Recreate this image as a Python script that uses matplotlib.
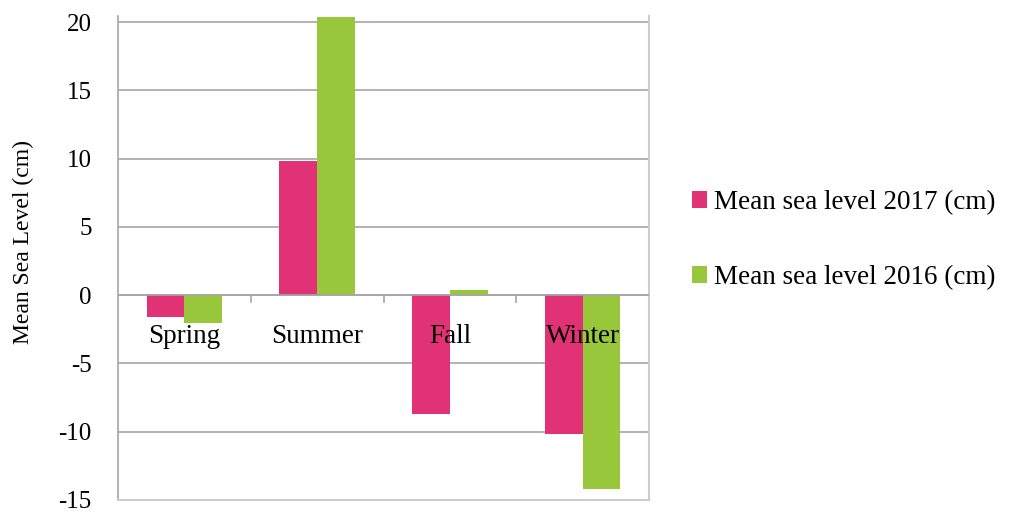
import numpy as np
from matplotlib import pyplot as plt

seasons = ['Spring', 'Summer', 'Fall', 'Winter']
level_2017 = [-1.6, 9.8, -8.7, -10.2]
level_2016 = [-2.0, 20.4, 0.4, -14.2]
series_names = ['Mean sea level 2017 (cm)', 'Mean sea level 2016 (cm)']
y_ticks = [-15, -10, -5, 0, 5, 10, 15, 20]

plt.rcParams['font.family'] = ['Liberation Serif', 'DejaVu Serif']

fig = plt.figure(figsize=(10.14, 5.13), dpi=100)
ax = fig.add_axes([118/1014, 13/513, (649-118)/1014, (500-16)/513])

x = np.arange(len(seasons))
wid = 0.285
ax.bar(x - wid/2, level_2017, width=wid, color='#e03275', label=series_names[0], zorder=3)
ax.bar(x + wid/2, level_2016, width=wid, color='#99c73c', label=series_names[1], zorder=3)

ax.set_xlim(-0.5, len(seasons) - 0.5)
ax.set_ylim(-15, 20.45)
ax.set_yticks(y_ticks)
ax.set_yticklabels([str(t) for t in y_ticks], fontsize=18)
ax.yaxis.grid(True, color='#a6a6a6', linewidth=1.2, zorder=0)
ax.tick_params(axis='y', length=0, pad=19)

# x axis sits at zero, labels drawn below it inside the plot
ax.axhline(0, color='#a6a6a6', linewidth=1.2, zorder=4)
ax.set_xticks([])
for i in range(1, len(seasons)):
    ax.plot([i - 0.5, i - 0.5], [0, -0.5], color='#a6a6a6', linewidth=1.2, zorder=4)
for i, s in enumerate(seasons):
    ax.text(i, -3.0, s, ha='center', va='center', fontsize=19.5, zorder=5)

ax.spines['top'].set_visible(False)
ax.spines['left'].set_color('#a6a6a6')
ax.spines['left'].set_linewidth(1.2)
ax.spines['right'].set_color('#cccccc')
ax.spines['bottom'].set_color('#cccccc')
ax.spines['right'].set_linewidth(1.5)
ax.spines['bottom'].set_linewidth(1.5)

fig.text(23/1014, 1 - 242/513, 'Mean Sea Level (cm)', rotation=90,
         ha='center', va='center', fontsize=17)

ax.legend(loc='center left', bbox_to_anchor=(1.036, 0.537), frameon=False,
          fontsize=19.5, handlelength=0.55, handleheight=0.55, handletextpad=0.25,
          labelspacing=1.85)

plt.savefig('out.png', dpi=100)
plt.close()
